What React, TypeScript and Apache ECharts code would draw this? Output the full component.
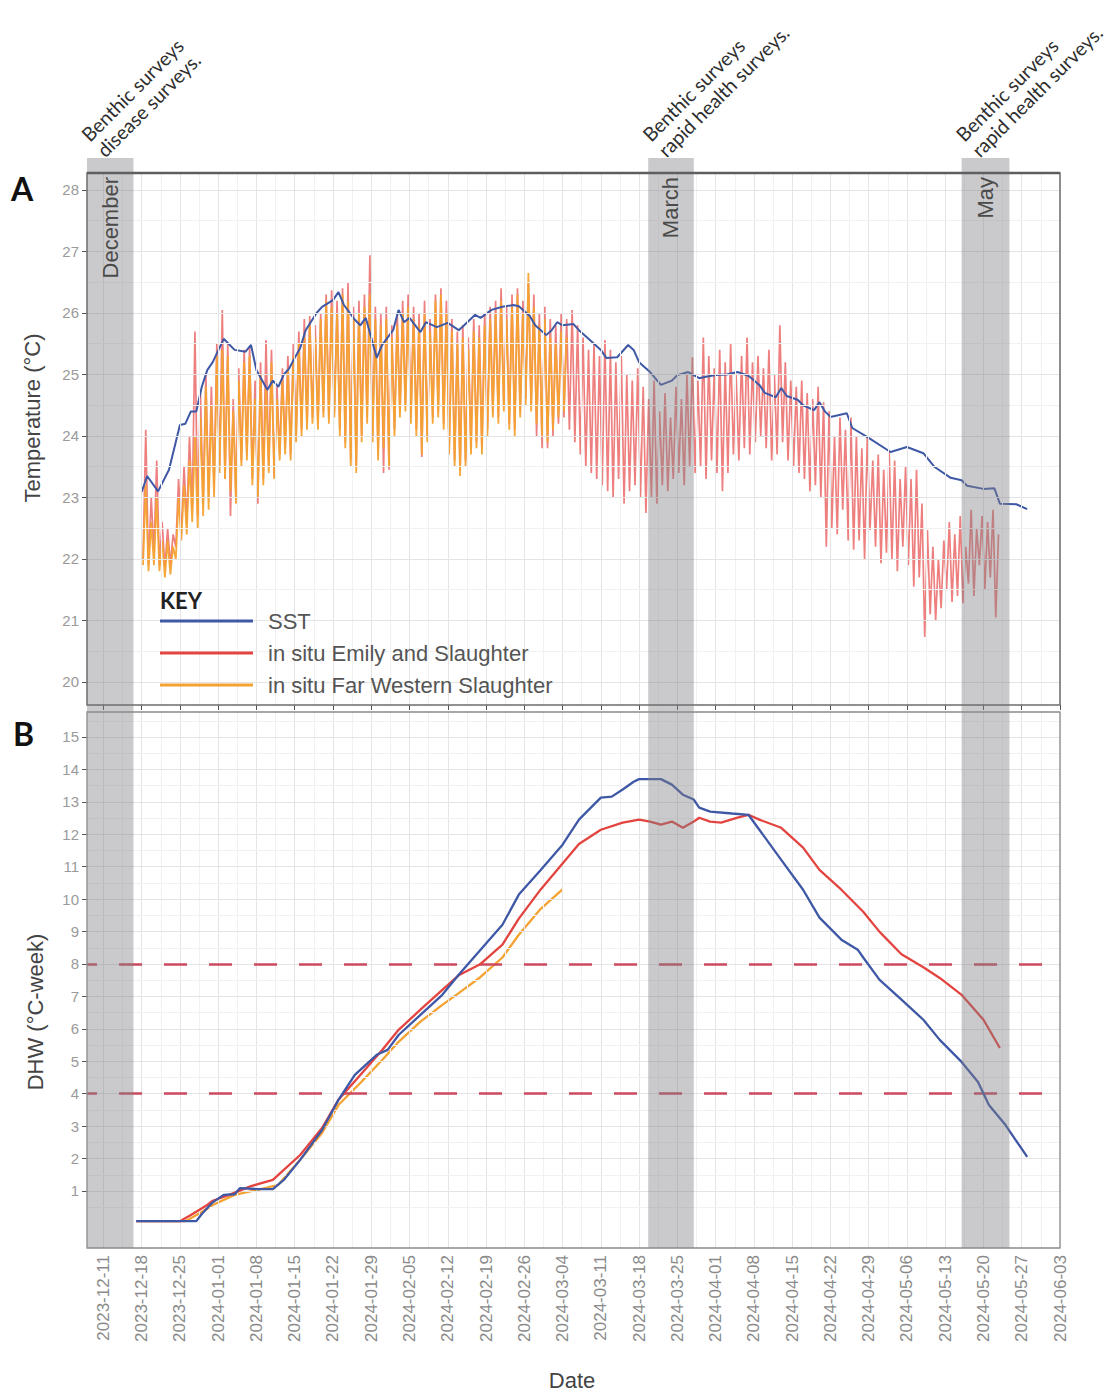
import React, { useEffect, useRef } from "react";
import * as echarts from "echarts";

// ---------- DATA ----------
const DAY = 86400000;
const ORIGIN = "2023-12-11"; // day offsets below count from this date
const X_MIN = "2023-12-08";
const X_MAX = "2024-06-03";

const tickDates = [
  "2023-12-11", "2023-12-18", "2023-12-25", "2024-01-01", "2024-01-08", "2024-01-15",
  "2024-01-22", "2024-01-29", "2024-02-05", "2024-02-12", "2024-02-19", "2024-02-26",
  "2024-03-04", "2024-03-11", "2024-03-18", "2024-03-25", "2024-04-01", "2024-04-08",
  "2024-04-15", "2024-04-22", "2024-04-29", "2024-05-06", "2024-05-13", "2024-05-20",
  "2024-05-27", "2024-06-03",
];
const tempTicks = [20, 21, 22, 23, 24, 25, 26, 27, 28];
const dhwTicks = [1, 2, 3, 4, 5, 6, 7, 8, 9, 10, 11, 12, 13, 14, 15];
const TEMP_RANGE = [19.626, 28.276];
const DHW_RANGE = [-0.758, 15.77];
const dhwThresholds = [4, 8];

const bandStart = ["2023-12-08", "2024-03-19T16:00", "2024-05-16T00:00"];
const bandEnd = ["2023-12-16T12:00", "2024-03-28T00:00", "2024-05-24T18:00"];
const bandMonth = ["December", "March", "May"];
const bandNote = [
  "Benthic surveys\ndisease surveys.",
  "Benthic surveys\nrapid health surveys.",
  "Benthic surveys\nrapid health surveys.",
];

const seriesNames = ["SST", "in situ Emily and Slaughter", "in situ Far Western Slaughter"];

// Panel A: SST (day offset, °C)
const sstDay = [7,8,10,12,14,15,16,17,18,19,20,22,24,26,27,28,30,31,32,33,34,35,36,37,39,40,42,43,44,46,47,48,49,50,51,53,54,55,56,58,59,61,63,65,66,68,69,71,73,75,76,78,79,81,82,83,84,86,87,89,91,92,94,96,97,98,100,102,104,105,107,109,110,112,114,116,118,120,121,123,124,125,127,128,130,131,132,133,136,137,140,144,147,150,152,155,157,158,161,163,164,167,169];
const sstTemp = [23.09,23.35,23.1,23.45,24.18,24.2,24.4,24.4,24.8,25.07,25.2,25.58,25.4,25.37,25.48,25.07,24.75,24.9,24.8,25.0,25.1,25.27,25.43,25.72,26.0,26.1,26.21,26.34,26.13,25.89,25.8,25.92,25.6,25.27,25.48,25.72,26.05,25.85,25.92,25.69,25.85,25.77,25.84,25.72,25.8,25.97,25.92,26.05,26.1,26.13,26.11,25.95,25.8,25.64,25.72,25.85,25.8,25.82,25.72,25.56,25.4,25.27,25.28,25.48,25.4,25.2,25.04,24.83,24.9,24.99,25.04,24.94,24.96,24.99,25.0,25.04,24.98,24.83,24.7,24.63,24.78,24.65,24.59,24.5,24.42,24.55,24.4,24.31,24.37,24.13,23.97,23.74,23.82,23.72,23.5,23.32,23.28,23.19,23.14,23.15,22.9,22.89,22.81];

// Panel A: in situ loggers, daily max / min from day 7 onwards
const insituStartDay = 7;
const emilyMax = [24.1,23.0,23.6,22.6,22.5,22.4, 23.3,23.5,24.0,25.7,24.7,25.0,24.8,25.5, 26.05,25.5,24.6,25.1,25.4,25.45,24.9, 25.2,25.56,25.4,24.8,25.1, 25.3,25.5,25.7,25.9,25.95,25.8,26.0, 26.3,26.37,26.2,26.4,26.5,26.1,26.2,26.3, 26.94,26.1,26.0,26.1,25.8,26.0,26.2, 26.3,26.1,26.0,26.2,25.9,26.3,26.4,26.2, 25.9,25.7,25.8,25.6,25.9,25.8,26.0,26.1, 26.2,26.4,26.1,26.3,26.4,26.2,26.5,26.3, 26.0,26.1,25.9,25.8,26.0,25.9, 26.05,25.8,25.6,25.4,25.5,25.3,25.56, 25.4,25.2,25.3,25.0,24.9,25.1,24.8, 24.6,24.9,24.4,24.7,24.3,24.8,24.6,25.0,25.28,24.9, 25.6,25.3,25.1,25.4,25.2,25.5,25.0,25.3,25.6,25.2, 25.3,25.1,25.4,25.0,25.8,25.2,24.9,24.8, 24.9,24.7,24.6,24.8,24.55,24.4,24.0, 24.3,24.1,24.3,24.0, 23.8,24.0,23.6,23.7,23.45,23.75, 23.6,23.3,23.5,23.3,23.45,22.9, 22.47,22.2,22.0,22.3, 22.6,22.4,22.7,22.2, 22.8,22.5,22.7,22.6,22.8,22.4];
const emilyMin = [22.0,21.9,22.1,21.9,21.85,21.9, 22.2,22.4,22.6,22.8,22.7,22.9,23.0,23.2, 23.5,23.3,22.7,23.0,23.6,23.7,23.3, 22.9,23.3,23.5,23.33,23.7, 23.8,23.7,24.0,24.1,24.2,24.3,24.2, 24.4,24.3,24.4,24.1,23.9,23.6,23.5,24.0, 24.3,24.0,23.7,23.4,23.45,24.1,24.4, 24.5,24.3,24.1,23.66,24.0,24.3,24.4,24.2, 23.8,23.6,23.45,23.6,23.8,23.9,23.8,24.1, 24.4,24.3,24.5,24.2,24.1,24.4,24.6,24.5, 24.0,23.8,23.8,24.0,24.2,24.3, 24.1,23.9,23.7,23.5,23.4,23.3,23.2, 23.1,23.0,23.3,22.9,23.1,23.2,23.0, 22.75,23.0,22.9,23.2,23.1,23.3,23.4,23.2,23.5,23.4, 23.5,23.3,23.6,23.4,23.1,23.4,23.7,23.6,23.8,23.7, 23.9,24.0,23.8,23.6,23.7,23.9,23.6,23.5, 23.4,23.3,23.1,23.2,23.0,22.2,22.5, 22.4,22.8,22.3,22.15, 22.3,22.0,22.47,22.2,21.93,22.1, 22.0,21.8,22.2,21.9,21.55,21.7, 20.73,21.1,21.0,21.2, 21.5,21.3,21.4,21.28, 21.6,21.4,21.9,21.5,21.7,21.05];
const farWestMax = [23.2,22.6,23.0,22.3,22.3,22.2, 23.0,23.2,23.6,24.0,24.3,24.8,24.5,25.3, 25.4,25.3,24.4,24.9,25.2,25.3,24.6, 25.0,24.8,25.2,24.6,24.9, 25.1,25.3,25.5,25.6,25.8,25.6,25.9, 26.2,26.1,26.0,26.3,26.2,25.9,26.0,26.1, 26.3,25.9,25.8,25.9,25.6,25.8,26.0, 26.1,25.9,25.8,26.0,25.7,26.2,26.3,26.0, 25.7,25.5,25.6,25.4,25.7,25.6,25.8,25.9, 26.0,26.2,25.9,26.1,26.3,26.0,26.65,26.1, 25.8,25.9,25.6,25.5,25.7,25.6];
const farWestMin = [21.9,21.8,21.9,21.8,21.7,21.75, 22.0,22.3,22.4,22.6,22.5,22.7,22.8,23.0, 23.4,23.3,23.1,22.9,23.5,23.6,23.2, 23.0,23.2,23.4,23.3,23.6, 23.7,23.6,23.9,24.0,24.1,24.2,24.1, 24.3,24.2,24.3,24.0,23.8,23.5,23.4,23.9, 24.2,23.9,23.6,23.8,23.5,24.0,24.3, 24.4,24.2,24.0,23.7,23.9,24.2,24.3,24.1, 23.7,23.5,23.35,23.5,23.7,23.8,23.7,24.0, 24.3,24.2,24.4,24.1,24.0,24.3,24.5,24.4, 24.2,24.0,23.9,24.1,24.3,24.4];

// Panel B: DHW (day offset, °C-week)
const sstDhwDay = [6,17,18,20,22,24,25,28,31,33,36,40,43,46,50,52,54,58,62,65,69,73,76,80,84,87,91,93,95,97,98,102,104,106,108,109,111,115,118,120,124,128,131,135,138,139,142,146,150,153,157,160,162,165,169];
const sstDhw = [0.07,0.07,0.29,0.65,0.88,0.9,1.09,1.06,1.06,1.34,1.96,2.88,3.81,4.58,5.2,5.35,5.81,6.43,7.05,7.67,8.44,9.21,10.14,10.9,11.68,12.45,13.13,13.16,13.38,13.62,13.7,13.7,13.53,13.22,13.07,12.82,12.7,12.64,12.6,12.14,11.21,10.29,9.43,8.75,8.44,8.2,7.51,6.9,6.28,5.66,4.98,4.36,3.65,3.04,2.05];
const emilyDhwDay = [6,14,16,19,20,23,27,31,33,36,40,43,47,51,54,58,62,65,69,73,76,80,84,87,91,95,98,100,102,104,106,108,109,111,113,116,118,120,124,128,131,135,139,142,146,150,153,157,161,164];
const emilyDhw = [0.07,0.07,0.26,0.57,0.7,0.88,1.15,1.34,1.65,2.11,2.94,3.81,4.58,5.35,5.97,6.59,7.2,7.65,8.0,8.6,9.4,10.3,11.1,11.7,12.14,12.36,12.45,12.39,12.3,12.39,12.2,12.39,12.51,12.39,12.36,12.51,12.6,12.45,12.2,11.59,10.9,10.29,9.61,8.99,8.3,7.9,7.57,7.05,6.28,5.41];
const farWestDhwDay = [6,15,18,20,24,28,32,36,40,43,47,51,54,58,62,65,69,73,76,80,84];
const farWestDhw = [0.07,0.07,0.35,0.57,0.88,1.03,1.19,1.96,2.79,3.65,4.33,5.04,5.6,6.22,6.74,7.1,7.6,8.2,8.9,9.7,10.3];

// ---------- HELPERS ----------
const ts = (s: string) => Date.parse(s.length === 10 ? s + "T00:00:00Z" : s + ":00Z");
const T0 = ts(ORIGIN);
const dayTs = (d: number) => T0 + d * DAY;
const fmt = (v: number) => {
  const d = new Date(v);
  return `${d.getUTCFullYear()}-${String(d.getUTCMonth() + 1).padStart(2, "0")}-${String(d.getUTCDate()).padStart(2, "0")}`;
};
const pairs = (days: number[], vals: number[]) =>
  days.slice(0, Math.min(days.length, vals.length)).map((d, i) => [dayTs(d), vals[i]]);
const zigzag = (start: number, mins: number[], maxs: number[]) => {
  const out: number[][] = [];
  const n = Math.min(mins.length, maxs.length);
  for (let i = 0; i < n; i++) {
    out.push([dayTs(start + i) + 0.25 * DAY, mins[i]]);
    out.push([dayTs(start + i) + 0.75 * DAY, maxs[i]]);
  }
  return out;
};

const SANS = "'Liberation Sans', Arial, sans-serif";
const HUMAN = "Lato, 'Open Sans', sans-serif";
const C_SST = "#3f58a6";
const C_EMILY = "#e3443f";
const C_FW = "#f4a232";

const GA = { left: 87, top: 173, width: 973, height: 532 };
const GB = { left: 87, top: 712, width: 973, height: 536 };
const BAND_TOP = 158;
const BAND_BOTTOM = 1248;

const tickTs = tickDates.map(ts);
const xMin = ts(X_MIN);
const xMax = ts(X_MAX);

function gridLines(xMajor: number[], yMajor: number[], yRange: number[]) {
  const data: any[] = [];
  const major = { color: "#e4e4e4", width: 1, type: "solid" };
  const minor = { color: "#f1f1f1", width: 1, type: "solid" };
  xMajor.forEach((v, i) => {
    data.push({ xAxis: v, lineStyle: major });
    if (i < xMajor.length - 1) data.push({ xAxis: (v + xMajor[i + 1]) / 2, lineStyle: minor });
  });
  const step = yMajor[1] - yMajor[0];
  yMajor.forEach((v) => data.push({ yAxis: v, lineStyle: major }));
  for (let v = yMajor[0] - step / 2; v <= yMajor[yMajor.length - 1] + step / 2 + 1e-9; v += step) {
    if (v > yRange[0] && v < yRange[1]) data.push({ yAxis: v, lineStyle: minor });
  }
  return data;
}

function xAxisCfg(gridIndex: number, labels: boolean) {
  return {
    type: "value",
    gridIndex,
    min: xMin,
    max: xMax,
    axisLine: { show: false },
    splitLine: { show: false },
    axisTick: { show: true, customValues: tickTs, length: 5, lineStyle: { color: "#555", width: 1 } },
    axisLabel: {
      show: labels,
      customValues: tickTs,
      rotate: 90,
      margin: 7,
      formatter: (v: number) => fmt(v),
      fontSize: 17,
      color: "#8a8a8a",
      fontFamily: SANS,
    },
  };
}

function yAxisCfg(gridIndex: number, range: number[], ticks: number[]) {
  return {
    type: "value",
    gridIndex,
    min: range[0],
    max: range[1],
    axisLine: { show: false },
    splitLine: { show: false },
    axisTick: { show: true, customValues: ticks, length: 5, lineStyle: { color: "#555", width: 1 } },
    axisLabel: { customValues: ticks, margin: 8, fontSize: 15, color: "#9a9a9a", fontFamily: SANS },
  };
}

function buildOption() {
  const bandData = bandStart.map((s, i) => [ts(s), ts(bandEnd[i]), TEMP_RANGE[0]]);
  return {
    animation: false,
    backgroundColor: "#ffffff",
    grid: [
      { ...GA, show: false },
      { ...GB, show: false },
    ],
    xAxis: [xAxisCfg(0, false), xAxisCfg(1, true)],
    yAxis: [yAxisCfg(0, TEMP_RANGE, tempTicks), yAxisCfg(1, DHW_RANGE, dhwTicks)],
    series: [
      {
        type: "line",
        xAxisIndex: 0,
        yAxisIndex: 0,
        data: [],
        silent: true,
        z: 1,
        markLine: {
          silent: true,
          symbol: ["none", "none"],
          label: { show: false },
          data: gridLines(tickTs, tempTicks, TEMP_RANGE),
        },
      },
      {
        type: "line",
        xAxisIndex: 1,
        yAxisIndex: 1,
        data: [],
        silent: true,
        z: 1,
        markLine: {
          silent: true,
          symbol: ["none", "none"],
          label: { show: false },
          data: gridLines(tickTs, dhwTicks, DHW_RANGE),
        },
      },
      {
        type: "line",
        xAxisIndex: 1,
        yAxisIndex: 1,
        data: [],
        silent: true,
        z: 3,
        markLine: {
          silent: true,
          symbol: ["none", "none"],
          label: { show: false },
          lineStyle: { color: "#cc4a60", width: 2.5, type: [23, 22], dashOffset: 13 },
          data: dhwThresholds.map((v) => ({ yAxis: v })),
        },
      },
      {
        name: seriesNames[1],
        type: "line",
        xAxisIndex: 0,
        yAxisIndex: 0,
        showSymbol: false,
        symbol: "none",
        z: 2,
        lineStyle: { color: "rgba(230,66,66,0.68)", width: 1.7 },
        data: zigzag(insituStartDay, emilyMin, emilyMax),
      },
      {
        name: seriesNames[2],
        type: "line",
        xAxisIndex: 0,
        yAxisIndex: 0,
        showSymbol: false,
        symbol: "none",
        z: 3,
        lineStyle: { color: C_FW, width: 1.8, opacity: 0.95 },
        data: zigzag(insituStartDay, farWestMin, farWestMax),
      },
      {
        name: seriesNames[0],
        type: "line",
        xAxisIndex: 0,
        yAxisIndex: 0,
        showSymbol: false,
        symbol: "none",
        z: 4,
        lineStyle: { color: C_SST, width: 2 },
        data: pairs(sstDay, sstTemp),
      },
      {
        type: "line",
        xAxisIndex: 1,
        yAxisIndex: 1,
        showSymbol: false,
        symbol: "none",
        z: 4,
        lineStyle: { color: C_FW, width: 2.3 },
        data: pairs(farWestDhwDay, farWestDhw),
      },
      {
        type: "line",
        xAxisIndex: 1,
        yAxisIndex: 1,
        showSymbol: false,
        symbol: "none",
        z: 5,
        lineStyle: { color: C_EMILY, width: 2.3 },
        data: pairs(emilyDhwDay, emilyDhw),
      },
      {
        type: "line",
        xAxisIndex: 1,
        yAxisIndex: 1,
        showSymbol: false,
        symbol: "none",
        z: 6,
        lineStyle: { color: C_SST, width: 2.3 },
        data: pairs(sstDhwDay, sstDhw),
      },
      {
        type: "custom",
        xAxisIndex: 0,
        yAxisIndex: 0,
        clip: false,
        silent: true,
        z: 10,
        encode: { x: [0, 1], y: 2 },
        data: bandData,
        renderItem: (params: any, api: any) => {
          const i = params.dataIndex;
          const x0 = api.coord([api.value(0), TEMP_RANGE[0]])[0];
          const x1 = api.coord([api.value(1), TEMP_RANGE[0]])[0];
          const cx = (x0 + x1) / 2;
          return {
            type: "group",
            children: [
              {
                type: "rect",
                shape: { x: x0, y: BAND_TOP, width: x1 - x0, height: BAND_BOTTOM - BAND_TOP },
                style: { fill: "rgba(128,128,134,0.42)" },
              },
              {
                type: "text",
                x: cx,
                y: 177,
                rotation: Math.PI / 2,
                style: {
                  text: bandMonth[i],
                  fontSize: 22,
                  fontFamily: SANS,
                  fill: "#4a4a4a",
                  align: "right",
                  verticalAlign: "middle",
                },
              },
              {
                type: "text",
                x: x0 + 21,
                y: 161,
                rotation: Math.PI / 4,
                style: {
                  text: bandNote[i],
                  fontSize: 19.5,
                  lineHeight: 22,
                  fontFamily: HUMAN,
                  fill: "#2e2e2e",
                  align: "left",
                  verticalAlign: "bottom",
                },
              },
            ],
          };
        },
      },
    ],
    graphic: [
      {
        type: "rect",
        z: 100,
        silent: true,
        shape: { x: GA.left, y: GA.top, width: GA.width, height: GA.height },
        style: { fill: "none", stroke: "#6e6e6e", lineWidth: 1.5 },
      },
      {
        type: "line",
        z: 100,
        silent: true,
        shape: { x1: GA.left, y1: GA.top, x2: GA.left + GA.width, y2: GA.top },
        style: { stroke: "#5e5e5e", lineWidth: 2.5 },
      },
      {
        type: "rect",
        z: 100,
        silent: true,
        shape: { x: GB.left, y: GB.top, width: GB.width, height: GB.height },
        style: { fill: "none", stroke: "#8a8a8a", lineWidth: 1.3 },
      },
      {
        type: "text",
        z: 100,
        x: 11,
        y: 188,
        style: { text: "A", fontSize: 32, fontWeight: "bold", fontFamily: HUMAN, fill: "#111", verticalAlign: "middle" },
      },
      {
        type: "text",
        z: 100,
        x: 13,
        y: 733,
        style: { text: "B", fontSize: 32, fontWeight: "bold", fontFamily: HUMAN, fill: "#111", verticalAlign: "middle" },
      },
      {
        type: "text",
        z: 100,
        x: 32,
        y: 418,
        rotation: Math.PI / 2,
        style: { text: "Temperature (°C)", fontSize: 22, fontFamily: SANS, fill: "#444", align: "center", verticalAlign: "middle" },
      },
      {
        type: "text",
        z: 100,
        x: 35,
        y: 1012,
        rotation: Math.PI / 2,
        style: { text: "DHW (°C-week)", fontSize: 22, fontFamily: SANS, fill: "#444", align: "center", verticalAlign: "middle" },
      },
      {
        type: "text",
        z: 100,
        x: 572,
        y: 1380,
        style: { text: "Date", fontSize: 22, fontFamily: SANS, fill: "#444", align: "center", verticalAlign: "middle" },
      },
      {
        type: "text",
        z: 100,
        x: 160,
        y: 600,
        style: { text: "KEY", fontSize: 22, fontWeight: "bold", fontFamily: HUMAN, fill: "#222", verticalAlign: "middle" },
      },
      ...[C_SST, C_EMILY, C_FW].flatMap((c, i) => [
        {
          type: "line",
          z: 100,
          silent: true,
          shape: { x1: 160, y1: 621 + i * 32, x2: 253, y2: 621 + i * 32 },
          style: { stroke: c, lineWidth: 3 },
        },
        {
          type: "text",
          z: 100,
          x: 268,
          y: 621 + i * 32,
          style: { text: seriesNames[i], fontSize: 22, fontFamily: SANS, fill: "#555", verticalAlign: "middle" },
        },
      ]),
    ],
  };
}

export default function App() {
  const ref = useRef<HTMLDivElement>(null);
  useEffect(() => {
    if (!ref.current) return;
    const chart = echarts.init(ref.current, null, { renderer: "svg" });
    chart.setOption(buildOption() as any);
    return () => chart.dispose();
  }, []);
  return (
    <div
      ref={ref}
      style={{ position: "absolute", left: 0, top: 0, width: 1115, height: 1392, background: "#fff" }}
    />
  );
}
